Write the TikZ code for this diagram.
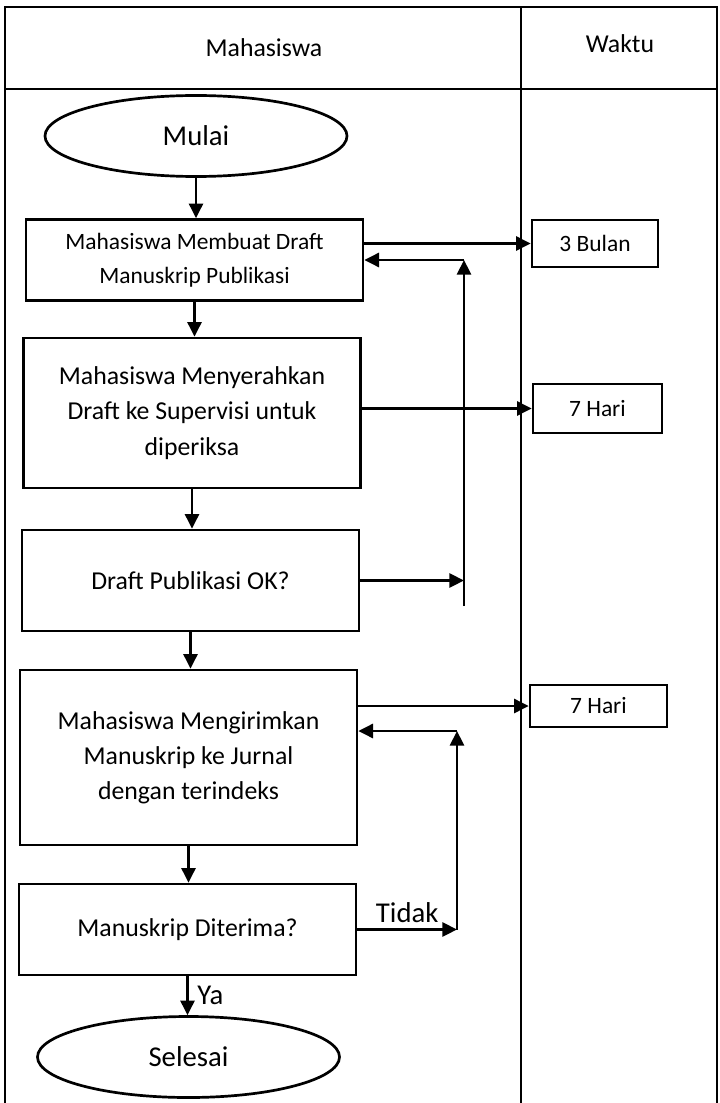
\documentclass[tikz,border=0pt]{standalone}
\usepackage{fontspec}
\setmainfont{Carlito}
\usetikzlibrary{arrows.meta,shapes.geometric}

\begin{document}
\begin{tikzpicture}[x=0.03cm,y=-0.03cm,>={Triangle[length=12.5pt,width=12pt]},line width=2.3pt]
      \tikzset{box/.style={draw,align=center,inner sep=0pt,minimum width=10.11cm,font=\fontsize{22}{30}\selectfont},term/.style={draw,ellipse,inner sep=0pt,minimum width=9.06cm,minimum height=2.43cm,font=\fontsize{24.5}{30}\selectfont},lama/.style={draw,inner sep=0pt,font=\fontsize{20}{24}\selectfont}}
      \useasboundingbox (0,0) rectangle (719,1103);
      \draw (5,1103) |- (717,7) -- (717,1103);\draw (521,7) -- (521,1103) (5,89) -- (717,89);
      \node[font=\fontsize{22}{26}\selectfont] (mhs) at (264,48) {Mahasiswa};\node[font=\fontsize{22}{26}\selectfont] (wkt) at (620,44) {Waktu};
      \node[term] (mulai) at (196,136) {Mulai};\node[box,minimum height=2.43cm,font=\fontsize{20}{29}\selectfont] (buat) at (194.5,260) {Mahasiswa Membuat Draft\\Manuskrip Publikasi};
      \node[box,minimum height=4.5cm] (serah) at (192,413) {Mahasiswa Menyerahkan\\Draft ke Supervisi untuk\\diperiksa};\node[box,minimum height=3.03cm] (cek) at (190.5,580.5) {Draft Publikasi OK?};
      \node[box,minimum height=5.25cm] (kirim) at (188.5,757.5) {Mahasiswa Mengirimkan\\Manuskrip ke Jurnal\\dengan terindeks};\node[box,minimum height=2.73cm] (terima) at (187.5,929.5) {Manuskrip Diterima?};
      \node[term] (selesai) at (188.5,1057) {Selesai};
      \node[lama,minimum width=3.78cm,minimum height=1.41cm] (t1) at (595,243.5) {3 Bulan};\node[lama,minimum width=3.87cm,minimum height=1.47cm] (t2) at (597.5,408.5) {7 Hari};\node[lama,minimum width=4.11cm,minimum height=1.26cm] (t3) at (598.5,706) {7 Hari};
      \foreach \a/\b in {mulai/buat,buat/serah,serah/cek,cek/kirim,kirim/terima}{\draw[->] (\a.south)--(\a.south|-\b.north);}
      \foreach \a/\b in {buat/t1,serah/t2,kirim/t3}{\draw[->] (\a.east|-\b.west)--(\b.west);}
      \draw[->] (terima.south)--(terima.south|-selesai.north) node[midway,right=4pt,font=\fontsize{24.5}{30}\selectfont] {Ya};
      % balik ke revisi
      \coordinate (r1) at (464,260);\coordinate (r1b) at (464,606);\coordinate (r2) at (457,731);
      \draw[->] (r1b)--(r1);\draw[->] (r1)--(buat.east|-r1);\draw[->] (cek.east)--(cek.east-|r1);
      \draw[->] (terima.east)--(terima.east-|r2) node[midway,above=1pt,font=\fontsize{24.5}{30}\selectfont] {Tidak};
      \draw[->] (terima.east-|r2)--(r2);\draw[->] (r2)--(kirim.east|-r2);
    \end{tikzpicture}
\end{document}
